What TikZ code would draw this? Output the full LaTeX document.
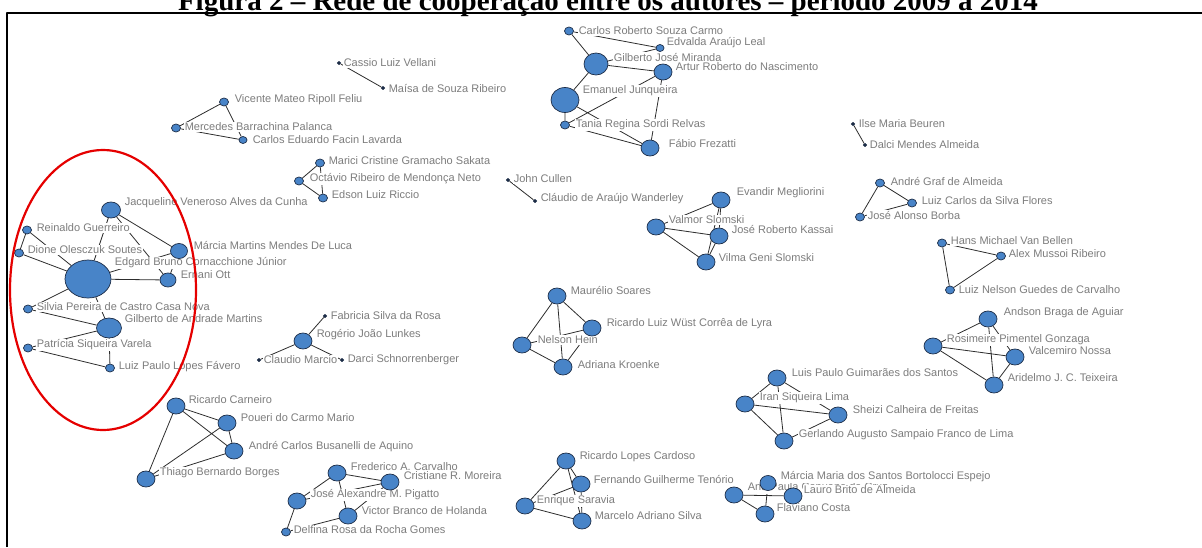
\documentclass[tikz,border=0pt]{standalone}
\usepackage{fontspec}
\setmainfont{Liberation Serif}
\setsansfont{Liberation Sans}
\usetikzlibrary{shapes.geometric}
\definecolor{nodeblue}{RGB}{72,132,200}
\definecolor{nodeline}{RGB}{28,44,70}
\definecolor{lblgray}{RGB}{125,125,125}
\definecolor{edgegray}{RGB}{45,45,45}
\pgfdeclarelayer{edges}
\pgfdeclarelayer{labels}
\pgfsetlayers{edges,labels,main}
\tikzset{
  author/.style={ellipse, draw=nodeline, line width=0.7pt, fill=nodeblue, inner sep=0pt},
  mid/.style={minimum width=18pt, minimum height=16pt},
  sml/.style={minimum width=9pt, minimum height=8pt},
  dotnode/.style={minimum width=3.5pt, minimum height=3pt, fill=nodeline},
  lbl/.style={anchor=west, fill=white, inner sep=0.6pt, text=lblgray,
    font=\sffamily\fontsize{11}{11}\selectfont},
  tie/.style={draw=edgegray, line width=0.8pt}
}
\begin{document}
\begin{tikzpicture}[x=1pt, y=-1pt, line join=round, line cap=round]
\useasboundingbox (0,0) rectangle (1202,547);
\clip (0,0) rectangle (1202,547);

\node[font=\bfseries\fontsize{29}{29}\selectfont, anchor=base] (title) at (608,10)
  {Figura 2 – Rede de cooperação entre os autores – período 2009 a 2014};
\draw[line width=2.5pt, line cap=butt] (7,547) -- (7,13) -- (1202,13);

% authors
\node[author, sml] (crsc) at (569,31) {};
\node[author, minimum width=8pt, minimum height=7pt] (eal) at (660,48) {};
\node[author, minimum width=24pt, minimum height=22pt] (gjm) at (596,64) {};
\node[author, mid] (arn) at (663,72) {};
\node[author, minimum width=28pt, minimum height=25pt] (ej) at (565,100) {};
\node[author, sml] (trsr) at (565,125) {};
\node[author, mid] (ff) at (650,148) {};

\node[author, dotnode] (clv) at (339,63) {};
\node[author, dotnode] (msr) at (383,88) {};

\node[author, sml] (vmrf) at (224,102) {};
\node[author, sml] (mbp) at (176,128) {};
\node[author, minimum width=8pt, minimum height=7pt] (cefl) at (243,140) {};

\node[author, sml] (mcgs) at (320,163) {};
\node[author, sml] (ormn) at (299,181) {};
\node[author, sml] (elr) at (323,198) {};

\node[author, dotnode] (jc) at (508,180) {};
\node[author, dotnode] (caw) at (535,201) {};
\node[author, dotnode] (imb) at (853,124) {};
\node[author, dotnode] (dma) at (865,145) {};

\node[author, mid] (em) at (721,200) {};
\node[author, mid] (vs) at (656,227) {};
\node[author, mid] (jrk) at (719,236) {};
\node[author, mid] (vgs) at (706,262) {};

\node[author, sml] (aga) at (880,183) {};
\node[author, sml] (lcsf) at (912,203) {};
\node[author, sml] (jab) at (860,217) {};

\node[author, sml] (hmvb) at (942,243) {};
\node[author, sml] (amr) at (1001,256) {};
\node[author, sml] (lngc) at (950,290) {};

\node[author, minimum width=19pt, minimum height=16pt] (jvac) at (111,210) {};
\node[author, sml] (rg) at (27,230) {};
\node[author, sml] (dos) at (19,253) {};
\node[author, minimum width=17pt, minimum height=15pt] (mmml) at (179,251) {};
\node[author, minimum width=46pt, minimum height=38pt] (ebcj) at (88,279) {};
\node[author, minimum width=16pt, minimum height=14pt] (eo) at (168,280) {};
\node[author, sml] (spccn) at (28,309) {};
\node[author, minimum width=25pt, minimum height=20pt] (gam) at (109,328) {};
\node[author, sml] (psv) at (28,348) {};
\node[author, sml] (lplf) at (110,368) {};

\node[author, dotnode] (fsr) at (325,316) {};
\node[author, mid] (rjl) at (303,341) {};
\node[author, dotnode] (cm) at (259,360) {};
\node[author, dotnode] (ds) at (342,360) {};

\node[author, mid] (ms) at (557,296) {};
\node[author, mid] (rlwcl) at (592,328) {};
\node[author, mid] (nh) at (522,345) {};
\node[author, mid] (ak) at (563,367) {};

\node[author, mid] (abda) at (988,319) {};
\node[author, mid] (rpg) at (933,346) {};
\node[author, mid] (vn) at (1015,357) {};
\node[author, mid] (ajct) at (994,385) {};

\node[author, mid] (lpgs) at (777,378) {};
\node[author, mid] (isl) at (745,404) {};
\node[author, mid] (scf) at (838,415) {};
\node[author, mid] (gaspfl) at (784,441) {};

\node[author, mid] (rc) at (176,406) {};
\node[author, mid] (pcm) at (227,423) {};
\node[author, mid] (acba) at (234,451) {};
\node[author, mid] (tbb) at (146,479) {};

\node[author, mid] (fac) at (337,473) {};
\node[author, mid] (crm) at (390,482) {};
\node[author, mid] (jamp) at (297,501) {};
\node[author, mid] (vbh) at (348,516) {};
\node[author, sml] (drrg) at (286,532) {};

\node[author, mid] (rlc) at (566,461) {};
\node[author, mid] (fgt) at (581,484) {};
\node[author, mid] (es) at (525,506) {};
\node[author, mid] (mas) at (582,521) {};

\node[author, mid] (apcc) at (734,495) {};
\node[author, minimum width=16pt, minimum height=15pt] (mmsbe) at (768,483) {};
\node[author, mid] (lba) at (793,496) {};
\node[author, mid] (fc) at (765,514) {};

% labels
\begin{pgfonlayer}{labels}
\node[lbl] (crsc-l) at (578,31) {Carlos Roberto Souza Carmo};
\node[lbl] (eal-l) at (666,43) {Edvalda Araújo Leal};
\node[lbl] (gjm-l) at (613,57) {Gilberto José Miranda};
\node[lbl] (arn-l) at (675,67) {Artur Roberto do Nascimento};
\node[lbl] (ej-l) at (582,91) {Emanuel Junqueira};
\node[lbl] (trsr-l) at (575,125) {Tania Regina Sordi Relvas};
\node[lbl] (ff-l) at (668,143) {Fábio Frezatti};
\node[lbl] (clv-l) at (343,63) {Cassio Luiz Vellani};
\node[lbl] (msr-l) at (388,88) {Maísa de Souza Ribeiro};
\node[lbl] (vmrf-l) at (234,100) {Vicente Mateo Ripoll Feliu};
\node[lbl] (mbp-l) at (184,127) {Mercedes Barrachina Palanca};
\node[lbl] (cefl-l) at (252,140) {Carlos Eduardo Facin Lavarda};
\node[lbl] (mcgs-l) at (328,161) {Marici Cristine Gramacho Sakata};
\node[lbl] (ormn-l) at (309,179) {Octávio Ribeiro de Mendonça Neto};
\node[lbl] (elr-l) at (331,195) {Edson Luiz Riccio};
\node[lbl] (jc-l) at (513,179) {John Cullen};
\node[lbl] (caw-l) at (540,199) {Cláudio de Araújo Wanderley};
\node[lbl] (imb-l) at (858,124) {Ilse Maria Beuren};
\node[lbl] (dma-l) at (869,145) {Dalci Mendes Almeida};
\node[lbl] (em-l) at (736,193) {Evandir Megliorini};
\node[lbl] (vs-l) at (668,220) {Valmor Slomski};
\node[lbl] (jrk-l) at (731,229) {José Roberto Kassai};
\node[lbl] (vgs-l) at (718,258) {Vilma Geni Slomski};
\node[lbl] (aga-l) at (890,181) {André Graf de Almeida};
\node[lbl] (lcsf-l) at (921,201) {Luiz Carlos da Silva Flores};
\node[lbl] (jab-l) at (867,215) {José Alonso Borba};
\node[lbl] (hmvb-l) at (950,241) {Hans Michael Van Bellen};
\node[lbl] (amr-l) at (1008,254) {Alex Mussoi Ribeiro};
\node[lbl] (lngc-l) at (958,290) {Luiz Nelson Guedes de Carvalho};
\node[lbl] (jvac-l) at (124,203) {Jacqueline Veneroso Alves da Cunha};
\node[lbl] (rg-l) at (36,228) {Reinaldo Guerreiro};
\node[lbl] (dos-l) at (27,250) {Dione Olesczuk Soutes};
\node[lbl] (mmml-l) at (193,245) {Márcia Martins Mendes De Luca};
\node[lbl] (ebcj-l) at (114,263) {Edgard Bruno Cornacchione Júnior};
\node[lbl] (eo-l) at (180,275) {Ernani Ott};
\node[lbl] (spccn-l) at (36,307) {Silvia Pereira de Castro Casa Nova};
\node[lbl] (gam-l) at (124,319) {Gilberto de Andrade Martins};
\node[lbl] (psv-l) at (36,345) {Patrícia Siqueira Varela};
\node[lbl] (lplf-l) at (118,367) {Luiz Paulo Lopes Fávero};
\node[lbl] (fsr-l) at (330,316) {Fabricia Silva da Rosa};
\node[lbl] (rjl-l) at (316,335) {Rogério João Lunkes};
\node[lbl] (cm-l) at (263,360) {Claudio Marcio};
\node[lbl] (ds-l) at (347,360) {Darci Schnorrenberger};
\node[lbl] (ms-l) at (570,290) {Maurélio Soares};
\node[lbl] (rlwcl-l) at (606,324) {Ricardo Luiz Wüst Corrêa de Lyra};
\node[lbl] (nh-l) at (537,340) {Nelson Hein};
\node[lbl] (ak-l) at (577,365) {Adriana Kroenke};
\node[lbl] (abda-l) at (1003,313) {Andson Braga de Aguiar};
\node[lbl] (rpg-l) at (946,340) {Rosimeire Pimentel Gonzaga};
\node[lbl] (vn-l) at (1028,351) {Valcemiro Nossa};
\node[lbl] (ajct-l) at (1007,378) {Aridelmo J. C. Teixeira};
\node[lbl] (lpgs-l) at (791,373) {Luis Paulo Guimarães dos Santos};
\node[lbl] (isl-l) at (759,398) {Iran Siqueira Lima};
\node[lbl] (scf-l) at (852,410) {Sheizi Calheira de Freitas};
\node[lbl] (gaspfl-l) at (798,435) {Gerlando Augusto Sampaio Franco de Lima};
\node[lbl] (rc-l) at (188,400) {Ricardo Carneiro};
\node[lbl] (pcm-l) at (240,418) {Poueri do Carmo Mario};
\node[lbl] (acba-l) at (248,447) {André Carlos Busanelli de Aquino};
\node[lbl] (tbb-l) at (159,473) {Thiago Bernardo Borges};
\node[lbl] (fac-l) at (350,467) {Frederico A. Carvalho};
\node[lbl] (crm-l) at (403,476) {Cristiane R. Moreira};
\node[lbl] (jamp-l) at (310,495) {José Alexandre M. Pigatto};
\node[lbl] (vbh-l) at (361,511) {Victor Branco de Holanda};
\node[lbl] (drrg-l) at (293,530) {Delfina Rosa da Rocha Gomes};
\node[lbl] (rlc-l) at (579,457) {Ricardo Lopes Cardoso};
\node[lbl] (fgt-l) at (593,479) {Fernando Guilherme Tenório};
\node[lbl] (es-l) at (536,501) {Enrique Saravia};
\node[lbl] (mas-l) at (594,516) {Marcelo Adriano Silva};
\node[lbl] (apcc-l) at (747,488) {Ana Paula Capuano da Cruz};
\node[lbl] (mmsbe-l) at (780,477) {Márcia Maria dos Santos Bortolocci Espejo};
\node[lbl] (lba-l) at (803,490) {Lauro Brito de Almeida};
\node[lbl] (fc-l) at (776,508) {Flaviano Costa};
\end{pgfonlayer}

% ties
\begin{pgfonlayer}{edges}
\draw[tie] (crsc)--(gjm) (crsc)--(eal) (gjm)--(eal) (gjm)--(arn) (gjm)--(ej)
  (trsr)--(arn) (arn)--(ff) (ej)--(trsr) (ej)--(ff) (trsr)--(ff);
\draw[tie] (clv)--(msr) (jc)--(caw) (imb)--(dma);
\draw[tie] (vmrf)--(mbp) (vmrf)--(cefl) (mbp)--(cefl);
\draw[tie] (mcgs)--(ormn) (mcgs)--(elr) (ormn)--(elr);
\draw[tie] (em)--(vs) (em)--(jrk) (em)--(vgs) (vs)--(jrk) (vs)--(vgs) (jrk)--(vgs);
\draw[tie] (aga)--(lcsf) (aga)--(jab) (lcsf)--(jab);
\draw[tie] (hmvb)--(amr) (hmvb)--(lngc) (amr)--(lngc);
\draw[tie] (jvac)--(ebcj) (jvac)--(mmml) (jvac)--(eo) (rg)--(dos) (rg)--(ebcj)
  (dos)--(ebcj) (ebcj)--(mmml) (ebcj)--(eo) (mmml)--(eo) (spccn)--(ebcj)
  (spccn)--(gam) (gam)--(ebcj) (psv)--(gam) (psv)--(lplf) (gam)--(lplf);
\draw[tie] (rjl)--(fsr) (rjl)--(cm) (rjl)--(ds);
\draw[tie] (ms)--(rlwcl) (ms)--(nh) (ms)--(ak) (nh)--(ak) (rlwcl)--(ak) (nh)--(rlwcl);
\draw[tie] (abda)--(rpg) (abda)--(vn) (abda)--(ajct) (rpg)--(vn) (rpg)--(ajct) (vn)--(ajct);
\draw[tie] (lpgs)--(isl) (lpgs)--(scf) (lpgs)--(gaspfl) (isl)--(scf) (isl)--(gaspfl) (scf)--(gaspfl);
\draw[tie] (rc)--(pcm) (rc)--(acba) (rc)--(tbb) (pcm)--(acba) (pcm)--(tbb) (acba)--(tbb);
\draw[tie] (fac)--(crm) (fac)--(jamp) (fac)--(vbh) (crm)--(jamp) (crm)--(vbh)
  (jamp)--(drrg) (vbh)--(drrg);
\draw[tie] (rlc)--(fgt) (rlc)--(es) (rlc)--(mas) (fgt)--(es) (fgt)--(mas) (es)--(mas);
\draw[tie] (apcc)--(lba) (apcc)--(fc) (mmsbe)--(fc);
\end{pgfonlayer}

% highlighted group
\draw[red!90!black, line width=2.2pt] (103,290) ellipse [x radius=93, y radius=140];
\end{tikzpicture}
\end{document}
